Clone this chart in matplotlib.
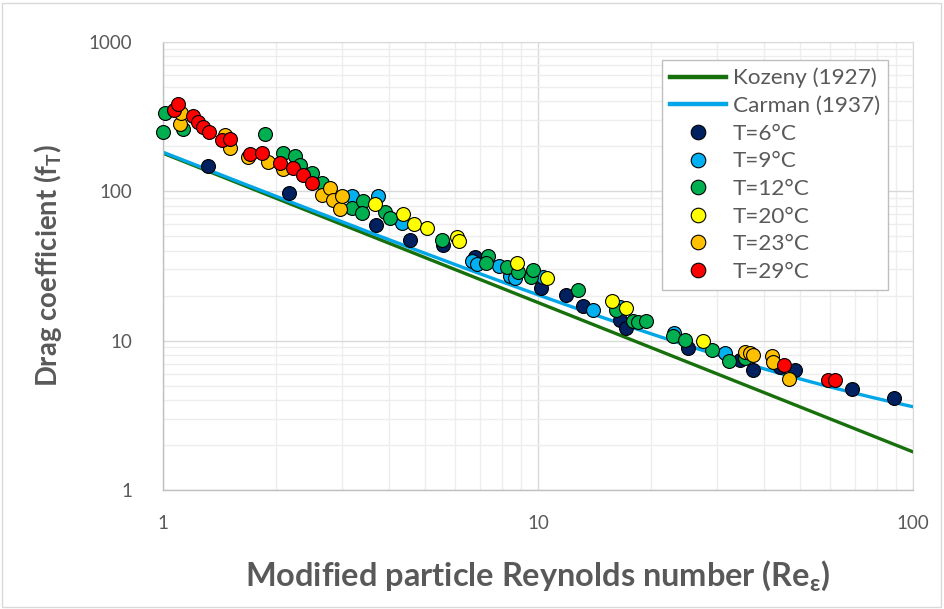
import numpy as np
import matplotlib
matplotlib.use("Agg")
import matplotlib.pyplot as plt
from matplotlib.lines import Line2D
from matplotlib.patches import Rectangle

plt.rcParams['font.family'] = ['Lato', 'DejaVu Sans']
plt.rcParams['mathtext.fontset'] = 'custom'
plt.rcParams['mathtext.rm'] = 'Lato'
plt.rcParams['mathtext.bf'] = 'Lato:bold'
plt.rcParams['mathtext.it'] = 'Lato:italic'
plt.rcParams['mathtext.fallback'] = 'stixsans'

# ---- data ----
t6_x = [1.32, 2.17, 3.70, 4.56, 5.58, 6.79, 10.2, 11.9, 13.2, 16.5, 17.2, 25.1, 34.6, 37.4, 44.2, 48.4, 68.8, 89.0]
t6_y = [148, 97.5, 59.6, 47.3, 43.8, 36.4, 22.5, 20.2, 17.1, 13.8, 12.2, 8.93, 7.42, 6.36, 6.67, 6.36, 4.75, 4.13]

t9_x = [3.19, 3.74, 4.34, 6.67, 6.88, 7.87, 8.42, 8.7, 10.3, 14.0, 16.5, 23.0, 31.5]
t9_y = [93.2, 93.0, 61.4, 34.2, 32.6, 31.7, 27.1, 26.3, 26.7, 16.1, 16.8, 11.3, 8.27]

t12_x = [1.0, 1.012, 1.13, 1.87, 2.09, 2.25, 2.32, 2.50, 2.65, 3.19, 3.41, 3.40, 3.91, 4.03, 5.55,
         7.36, 7.26, 8.27, 8.85, 9.58, 9.7, 12.8, 16.1, 17.9, 18.5, 19.4, 22.9, 24.7, 29.1, 32.3, 35.6]
t12_y = [250, 335, 262, 242, 181, 173, 150, 133, 114, 77.4, 86.2, 71.7, 72.8, 66.3, 47.3,
         36.9, 33.2, 31.2, 28.8, 26.7, 29.8, 21.9, 16.1, 13.6, 13.4, 13.6, 10.7, 10.1, 8.67, 7.31, 7.66]

t20_x = [3.68, 4.36, 4.67, 5.06, 6.08, 6.16, 8.79, 10.6, 15.8, 17.2, 27.5]
t20_y = [82.4, 70.6, 60.5, 56.9, 49.5, 46.5, 33.2, 26.3, 18.5, 16.6, 9.95]

t23_x = [1.11, 1.12, 1.46, 1.51, 1.69, 1.91, 2.09, 2.65, 2.79, 2.84, 2.97, 3.0, 35.6, 36.8, 37.4, 42.1, 42.4, 46.7]
t23_y = [283, 335, 239, 195, 170, 157, 141, 94.6, 105, 87.6, 76.2, 93.2, 8.4, 8.27, 8.03, 7.9, 7.2, 5.54]

t29_x = [1.07, 1.096, 1.2, 1.24, 1.28, 1.33, 1.44, 1.51, 1.71, 1.84, 2.05, 2.22, 2.36, 2.50, 45.3, 59.3, 62.0]
t29_y = [351, 385, 320, 292, 270, 250, 221, 224, 178, 181, 155, 143, 129, 114, 6.88, 5.46, 5.46]

series = [
    ("T=6°C", t6_x, t6_y, "#002060"),
    ("T=9°C", t9_x, t9_y, "#00B0F0"),
    ("T=12°C", t12_x, t12_y, "#00B050"),
    ("T=20°C", t20_x, t20_y, "#FFFF00"),
    ("T=23°C", t23_x, t23_y, "#FFC000"),
    ("T=29°C", t29_x, t29_y, "#FF0000"),
]

re_line = np.logspace(0, 2, 200)
kozeny = 180.0 / re_line
carman = 180.0 / re_line + 2.87 / re_line ** 0.1

# ---- figure ----
fig = plt.figure(figsize=(9.44, 6.09), dpi=100)
ax = fig.add_axes([163 / 944, 1 - 490 / 609, 750 / 944, 448 / 609])

fig.patches.append(Rectangle((2 / 944, 2 / 609), 939 / 944, 604 / 609, transform=fig.transFigure,
                             fill=False, edgecolor="#D9D9D9", linewidth=1.0))

ax.set_xscale("log")
ax.set_yscale("log")
ax.set_xlim(1, 100)
ax.set_ylim(1, 1000)

ax.grid(which="minor", color="#EDEDED", linewidth=1.0)
ax.grid(which="major", color="#D9D9D9", linewidth=1.0)
ax.set_axisbelow(True)

for s in ["top", "right"]:
    ax.spines[s].set_color("#D9D9D9")
for s in ["left", "bottom"]:
    ax.spines[s].set_color("#BFBFBF")
    ax.spines[s].set_linewidth(1.0)

ax.tick_params(which="both", length=0)
ax.tick_params(axis="x", pad=18, labelsize=13.5, labelcolor="#595959")
ax.tick_params(axis="y", pad=22, labelsize=13.5, labelcolor="#595959")
ax.set_xticks([1, 10, 100])
ax.set_xticklabels(["1", "10", "100"])
ax.set_yticks([1, 10, 100, 1000])
ax.set_yticklabels(["1", "10", "100", "1000"])

ax.plot(re_line, kozeny, color="#17700B", linewidth=2.4, zorder=2, label="Kozeny (1927)")
ax.plot(re_line, carman, color="#00A6E8", linewidth=2.4, zorder=2.1, label="Carman (1937)")

for i, (lab, xs, ys, col) in enumerate(series):
    ax.scatter(xs, ys, s=100, color=col, edgecolor="black", linewidth=0.8, zorder=3 + i,
               clip_on=False, label=lab)

ax.set_xlabel(r"Modified particle Reynolds number (Re$_{\mathbf{\varepsilon}}$)", fontsize=23.4,
              fontweight="bold", color="#595959", labelpad=19)
ax.set_ylabel(r"Drag coefficient (f$_{\mathbf{T}}$)", fontsize=19.8, fontweight="bold",
              color="#595959", labelpad=18)

handles = [Line2D([], [], color="#17700B", linewidth=3.2),
           Line2D([], [], color="#00A6E8", linewidth=3.2)]
labels = ["Kozeny (1927)", "Carman (1937)"]
for lab, xs, ys, col in series:
    handles.append(Line2D([], [], linestyle="none", marker="o", markersize=10.5,
                          markerfacecolor=col, markeredgecolor="black", markeredgewidth=0.8))
    labels.append(lab)

leg = fig.legend(handles, labels, loc="upper left", bbox_to_anchor=(662 / 944, 1 - 60 / 609),
                 fontsize=16.2, frameon=True, fancybox=False, framealpha=1, edgecolor="#BFBFBF",
                 handlelength=2.5, handletextpad=0.3, labelspacing=0.34, borderpad=0.35,
                 borderaxespad=0)
for t in leg.get_texts():
    t.set_color("#595959")
leg.get_frame().set_linewidth(1.0)

fig.savefig("out.png", dpi=100)
